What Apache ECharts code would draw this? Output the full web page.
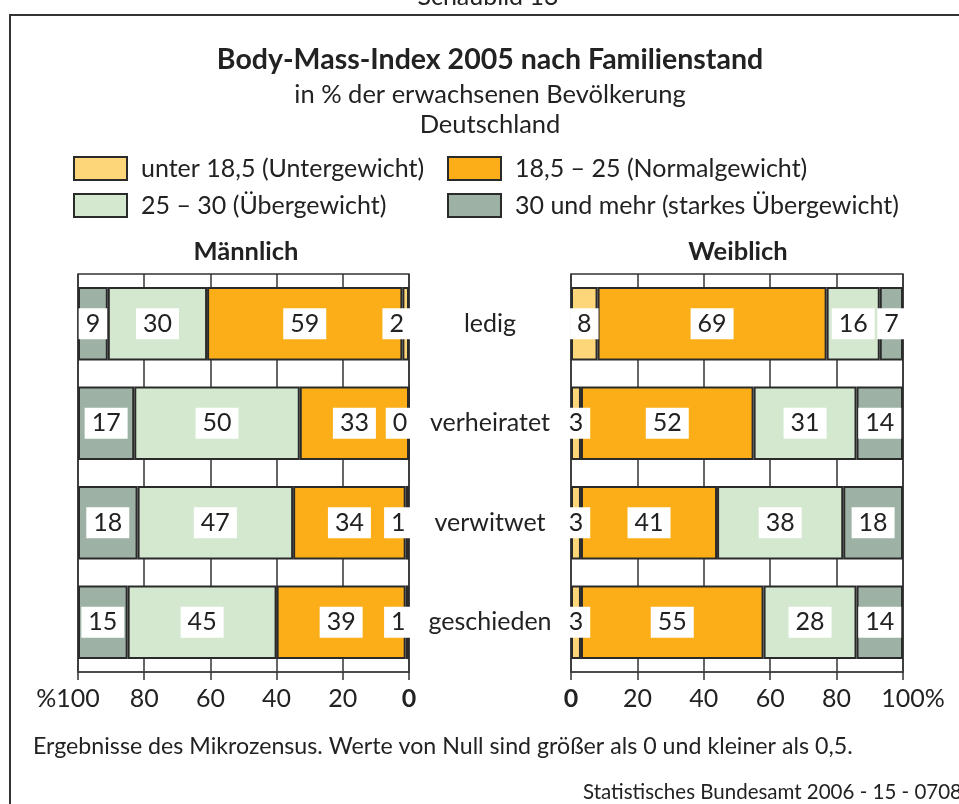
<!DOCTYPE html>
<html>
<head>
<meta charset="utf-8">
<script src="https://cdn.jsdelivr.net/npm/echarts@6/dist/echarts.min.js"></script>
<style>
  html, body { margin: 0; padding: 0; background: #fff; }
  #chart { width: 959px; height: 804px; }
</style>
</head>
<body>
<div id="chart"></div>
<script>
// Familienstand categories (top to bottom)
const categories = ['ledig', 'verheiratet', 'verwitwet', 'geschieden'];

// BMI groups
const groups = [
  'unter 18,5 (Untergewicht)',
  '18,5 – 25 (Normalgewicht)',
  '25 – 30 (Übergewicht)',
  '30 und mehr (starkes Übergewicht)'
];

// Männlich, in %
const maleUnder  = [2, 0, 1, 1];
const maleNormal = [59, 33, 34, 39];
const maleOver   = [30, 50, 47, 45];
const maleObese  = [9, 17, 18, 15];

// Weiblich, in %
const femaleUnder  = [8, 3, 3, 3];
const femaleNormal = [69, 52, 41, 55];
const femaleOver   = [16, 31, 38, 28];
const femaleObese  = [7, 14, 18, 14];

const colors = ['#fdd67a', '#fbae17', '#d3e8cf', '#9db2a4'];
const FONT = 'Lato';
const INK = '#2a2a2a';

const maleSets = [maleUnder, maleNormal, maleOver, maleObese];
const femaleSets = [femaleUnder, femaleNormal, femaleOver, femaleObese];

const labelBase = {
  show: true,
  position: 'inside',
  formatter: '{c}',
  backgroundColor: '#fff',
  padding: [3, 7, 3, 7],
  fontFamily: FONT,
  fontSize: 25,
  lineHeight: 25,
  color: '#222'
};

function buildSeries(sets, gridIdx, isLeft) {
  return sets.map(function (vals, i) {
    return {
      name: groups[i],
      type: 'bar',
      stack: 'panel' + gridIdx,
      xAxisIndex: gridIdx,
      yAxisIndex: gridIdx,
      barCategoryGap: '26%',
      itemStyle: { color: colors[i], borderColor: INK, borderWidth: 2 },
      label: labelBase,
      data: vals.map(function (v) {
        // keep narrow labels next to the zero line inside the panel
        if (isLeft && v < 3) {
          return { value: v, label: { offset: [-9, 0] } };
        }
        return v;
      })
    };
  });
}

function legendAt(idx, left, top) {
  return {
    data: [groups[idx]],
    left: left,
    top: top,
    padding: 0,
    icon: 'rect',
    itemWidth: 53,
    itemHeight: 23,
    selectedMode: false,
    itemStyle: { borderColor: INK, borderWidth: 2 },
    textStyle: { fontFamily: FONT, fontSize: 25, color: '#222', padding: [0, 0, 0, 9] }
  };
}

function axisLabelStyle(isLeft) {
  return {
    margin: 14,
    fontFamily: FONT,
    fontSize: 25,
    color: '#222',
    formatter: function (v) {
      if (v === 0) return '{b|0}';
      if (v === 100) return isLeft ? '{n|%}100{h|%}' : '{h|%}100{n|%}';
      return String(v);
    },
    rich: {
      b: { fontFamily: FONT, fontSize: 25, fontWeight: 'bold', color: '#222' },
      n: { fontFamily: FONT, fontSize: 25, color: '#222' },
      h: { fontFamily: FONT, fontSize: 25, color: 'rgba(0,0,0,0)' }
    }
  };
}

function xAxisFor(gridIdx, isLeft) {
  return {
    gridIndex: gridIdx,
    type: 'value',
    min: 0,
    max: 100,
    interval: 20,
    inverse: isLeft,
    axisLine: { show: true, lineStyle: { color: '#444', width: 1.5 } },
    axisTick: { show: true, length: 8, lineStyle: { color: '#333', width: 1.5 } },
    splitLine: { show: true, lineStyle: { color: '#333', width: 1.5 } },
    axisLabel: axisLabelStyle(isLeft)
  };
}

function textEl(text, x, y, opts) {
  opts = opts || {};
  return {
    type: 'text',
    x: x,
    y: y,
    silent: true,
    style: {
      text: text,
      fontFamily: FONT,
      fontSize: opts.size || 22,
      fontWeight: opts.weight || 'normal',
      fill: opts.color || '#222',
      align: opts.align || 'center',
      textAlign: opts.align || 'center',
      verticalAlign: 'middle',
      textVerticalAlign: 'middle'
    }
  };
}

const chart = echarts.init(document.getElementById('chart'), null, { renderer: 'canvas' });

chart.setOption({
  backgroundColor: '#fff',
  animation: false,
  grid: [
    { left: 78, width: 331, top: 274, height: 398, show: true, borderColor: '#333', borderWidth: 1.5, backgroundColor: 'transparent' },
    { left: 571, width: 332, top: 274, height: 398, show: true, borderColor: '#333', borderWidth: 1.5, backgroundColor: 'transparent' }
  ],
  legend: [
    legendAt(0, 73, 156),
    legendAt(1, 447, 156),
    legendAt(2, 73, 193),
    legendAt(3, 447, 193)
  ],
  xAxis: [xAxisFor(0, true), xAxisFor(1, false)],
  yAxis: [
    {
      gridIndex: 0, type: 'category', data: categories, inverse: true,
      axisLine: { show: false }, axisTick: { show: false }, axisLabel: { show: false }
    },
    {
      gridIndex: 1, type: 'category', data: categories, inverse: true,
      axisLine: { show: false }, axisTick: { show: false },
      axisLabel: { show: true, align: 'center', margin: 81, fontFamily: FONT, fontSize: 25, color: '#222' }
    }
  ],
  series: buildSeries(maleSets, 0, true).concat(buildSeries(femaleSets, 1, false)),
  graphic: [
    {
      type: 'rect',
      silent: true,
      shape: { x: 10, y: 15, width: 1000, height: 900 },
      style: { fill: 'none', stroke: '#333', lineWidth: 2 }
    },
    textEl('Schaubild 13', 488, -3, { size: 25 }),
    textEl('Body-Mass-Index 2005 nach Familienstand', 490, 60, { size: 28.5, weight: 'bold' }),
    textEl('in % der erwachsenen Bevölkerung', 490, 95, { size: 25.5 }),
    textEl('Deutschland', 490, 125, { size: 25.5 }),
    textEl('Männlich', 246, 252, { size: 25.5, weight: 'bold' }),
    textEl('Weiblich', 738, 252, { size: 25.5, weight: 'bold' }),
    textEl('Ergebnisse des Mikrozensus. Werte von Null sind größer als 0 und kleiner als 0,5.', 33, 747, { size: 23.2, align: 'left' }),
    textEl('Statistisches Bundesamt 2006 - 15 - 0708', 583, 792, { size: 20.5, align: 'left' })
  ]
});
</script>
</body>
</html>
